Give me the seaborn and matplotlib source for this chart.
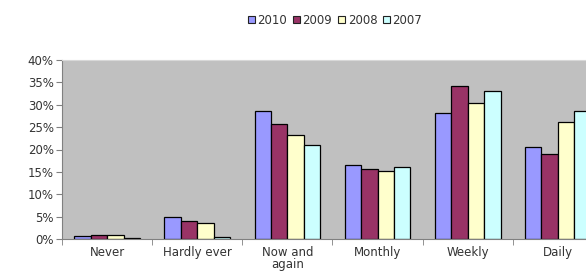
import pandas as pd
import matplotlib.pyplot as plt
import seaborn as sns
from matplotlib.patches import Patch
from matplotlib.ticker import FixedLocator, PercentFormatter

categories = ["Never", "Hardly ever", "Now and\nagain", "Monthly", "Weekly", "Daily"]
years = ["2010", "2009", "2008", "2007"]
v2010 = [0.7, 5.0, 28.6, 16.5, 28.2, 20.6]
v2009 = [0.8, 4.1, 25.7, 15.7, 34.3, 19.1]
v2008 = [0.9, 3.6, 23.3, 15.3, 30.3, 26.1]
v2007 = [0.3, 0.5, 20.9, 16.1, 33.1, 28.5]
colors = ["#9999FF", "#993366", "#FFFFCC", "#CCFFFF"]

rows = []
for year, vals in zip(years, [v2010, v2009, v2008, v2007]):
    for cat, v in zip(categories, vals):
        rows.append({"category": cat, "year": year, "value": v})
df = pd.DataFrame(rows)

sns.set_style("white")
plt.rcParams['font.family'] = ['DejaVu Sans']

fig = plt.figure(figsize=(5.86, 2.79), dpi=100)
# plot area runs past the right edge, like the cropped original
ax = fig.add_axes([62 / 586, 1 - 239 / 279, 541 / 586, 179 / 279])
ax.set_facecolor("#C0C0C0")

sns.barplot(data=df, x="category", y="value", hue="year", order=categories,
            hue_order=years, palette=colors, saturation=1, width=0.73,
            edgecolor="black", linewidth=0.9, legend=False, ax=ax)

ax.set_ylim(0, 40)
ax.set_xlim(-0.5, len(categories) - 0.5)
ax.set_yticks(range(0, 41, 5))
ax.yaxis.set_major_formatter(PercentFormatter(decimals=0))
ax.set_xlabel("")
ax.set_ylabel("")
ax.tick_params(axis="y", labelsize=8.5, length=4, direction="out", color="#808080",
               left=True, pad=2, labelcolor="#333333")
ax.tick_params(axis="x", which="major", labelsize=8.5, length=0, pad=5, labelcolor="#333333")
for lbl in ax.get_xticklabels():
    lbl.set_linespacing(0.95)
ax.xaxis.set_minor_locator(FixedLocator([i - 0.5 for i in range(len(categories) + 1)]))
ax.tick_params(axis="x", which="minor", length=4, direction="out", color="#808080", bottom=True)
for s in ["left", "bottom"]:
    ax.spines[s].set_color("#808080")
    ax.spines[s].set_linewidth(0.8)
ax.spines["top"].set_color("#D8D8D8")
ax.spines["right"].set_visible(False)

handles = [Patch(facecolor=c, edgecolor="#222222", linewidth=0.8, label=y)
           for c, y in zip(colors, years)]
leg = fig.legend(handles=handles, loc="center", bbox_to_anchor=(0.572, 0.928), ncol=4,
                 frameon=False, fontsize=8.5, handlelength=0.6, handleheight=0.6,
                 handletextpad=0.2, columnspacing=0.5)
for t in leg.get_texts():
    t.set_color("#333333")

fig.savefig("out.png", dpi=100)
